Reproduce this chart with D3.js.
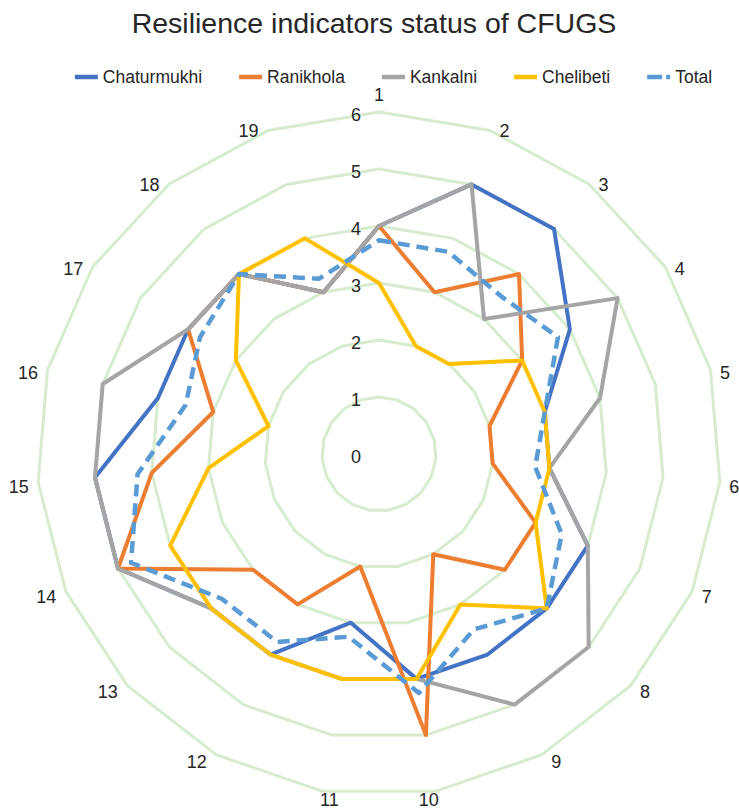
<!DOCTYPE html>
<html>
<head>
<meta charset="utf-8">
<script src="https://cdn.jsdelivr.net/npm/d3@7"></script>
<style>
  html, body { margin: 0; padding: 0; background: #ffffff; }
  svg { display: block; font-family: "Liberation Sans", Arial, Helvetica, sans-serif; }
</style>
</head>
<body>
<svg id="chart" width="739" height="812"></svg>
<script>
// Resilience indicators (1–19) scored 0–6 for each community forest user group
const indicators = ["1","2","3","4","5","6","7","8","9","10","11","12","13","14","15","16","17","18","19"];
const scaleTicks = [0, 1, 2, 3, 4, 5, 6];

const chaturmukhi = [4, 5, 5, 4, 3, 3, 4, 4, 4, 4, 3, 4, 4, 5, 5, 4, 4, 4, 3];
const ranikhola   = [4, 3, 4, 3, 2, 2, 3, 3, 2, 5, 2, 3, 3, 5, 4, 3, 4, 4, 3];
const kankalni    = [4, 5, 3, 5, 4, 3, 4, 5, 5, 4, 4, 4, 4, 5, 5, 5, 4, 4, 3];
const chelibeti   = [3, 2, 2, 3, 3, 3, 3, 4, 3, 4, 4, 4, 4, 4, 3, 2, 3, 4, 4];
const total       = [3.75, 3.75, 3.5, 3.75, 3, 2.75, 3.5, 4, 3.5, 4.25, 3.25, 3.75, 3.75, 4.75, 4.25, 3.5, 3.75, 4, 3.25];

const seriesNames = ["Chaturmukhi", "Ranikhola", "Kankalni", "Chelibeti", "Total"];
const seriesValues = [chaturmukhi, ranikhola, kankalni, chelibeti, total];
const seriesColors = ["#4472c4", "#ed7d31", "#a5a5a5", "#ffc000", "#5b9bd5"];

const svg = d3.select("#chart");
const cx = 379, cy = 454, outerR = 342;

const r = d3.scaleLinear().domain([0, 6]).range([0, outerR]);
const angle = d3.scaleLinear().domain([0, indicators.length]).range([0, 2 * Math.PI]);

const radial = d3.lineRadial()
  .angle((d, i) => angle(i))
  .radius(d => r(d))
  .curve(d3.curveLinearClosed);

// Title
svg.append("text")
  .attr("x", 374).attr("y", 33)
  .attr("text-anchor", "middle")
  .attr("font-size", 28.5)
  .attr("fill", "#262626")
  .text("Resilience indicators status of CFUGS");

const plot = svg.append("g").attr("transform", `translate(${cx},${cy})`);

// Grid rings (19-sided polygons)
plot.append("g").selectAll("path")
  .data(scaleTicks.filter(t => t > 0))
  .join("path")
  .attr("d", t => radial(indicators.map(() => t)))
  .attr("fill", "none")
  .attr("stroke", "#d7ecce")
  .attr("stroke-width", 3);

// Scale labels along the first spoke
plot.append("g").selectAll("text")
  .data(scaleTicks)
  .join("text")
  .attr("x", -23)
  .attr("y", t => -r(t) + 3)
  .attr("text-anchor", "middle")
  .attr("dominant-baseline", "central")
  .attr("font-size", 18)
  .attr("fill", "#262626")
  .text(t => t);

// Indicator labels around the outside: beside the outer vertex,
// or above/below it for the near-vertical spokes
const catLabels = plot.append("g").selectAll("text")
  .data(indicators)
  .join("text")
  .attr("text-anchor", "middle")
  .attr("dominant-baseline", "central")
  .attr("font-size", 18)
  .attr("fill", "#262626")
  .text(d => d);

catLabels.each(function(d, i) {
  const a = angle(i);
  const s = Math.sin(a), c = Math.cos(a);
  const w = this.getComputedTextLength();
  const vx = s * outerR, vy = -c * outerR;
  let x, y;
  if (Math.abs(s) < 0.2) {
    x = s * (outerR - 40);
    y = vy - c * 13 - 4;
  } else {
    x = vx + Math.sign(s) * (9.5 + w / 2);
    y = vy + 4 - c * 4;
  }
  d3.select(this).attr("x", x).attr("y", y);
});

// Series polygons, drawn in legend order
plot.append("g").selectAll("path")
  .data(seriesValues)
  .join("path")
  .attr("d", v => radial(v))
  .attr("fill", "none")
  .attr("stroke", (v, i) => seriesColors[i])
  .attr("stroke-width", (v, i) => i === 4 ? 4.5 : 4)
  .attr("stroke-linejoin", "round")
  .attr("stroke-dasharray", (v, i) => i === 4 ? "12,7" : null);

// Legend
const legend = svg.append("g").attr("transform", "translate(0,77)");
const items = legend.selectAll("g")
  .data(seriesNames)
  .join("g");

items.append("line")
  .attr("x1", 0).attr("x2", 23)
  .attr("y1", 0).attr("y2", 0)
  .attr("stroke", (d, i) => seriesColors[i])
  .attr("stroke-width", 4.5)
  .attr("stroke-dasharray", (d, i) => i === 4 ? "15,4,4,20" : null);

items.append("text")
  .attr("x", 28)
  .attr("y", 0)
  .attr("dominant-baseline", "central")
  .attr("font-size", 17.5)
  .attr("fill", "#262626")
  .text(d => d);

const gap = 37;
const widths = [];
items.each(function() {
  widths.push(28 + d3.select(this).select("text").node().getComputedTextLength());
});
const totalW = d3.sum(widths) + gap * (widths.length - 1);
let xPos = 393.5 - totalW / 2;
items.each(function(d, i) {
  d3.select(this).attr("transform", `translate(${xPos},0)`);
  xPos += widths[i] + gap;
});
</script>
</body>
</html>
